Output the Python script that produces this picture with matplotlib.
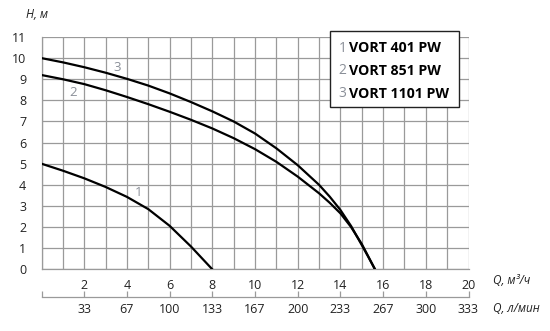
import matplotlib
matplotlib.use("Agg")
import matplotlib.pyplot as plt
from matplotlib.patches import Rectangle

plt.rcParams["font.family"] = ["Open Sans", "DejaVu Sans"]

# curve data, Q in m3/h, H in m
q1 = [0, 1, 2, 3, 4, 5, 6, 7, 8]
h1 = [5.0, 4.67, 4.31, 3.9, 3.43, 2.85, 2.06, 1.08, 0.0]

q2 = [0, 1, 2, 3, 4, 5, 6, 7, 8, 9, 10, 11, 12, 13, 13.5, 14, 14.5, 15, 15.3, 15.62]
h2 = [9.2, 9.0, 8.77, 8.48, 8.16, 7.82, 7.46, 7.08, 6.67, 6.21, 5.69, 5.09, 4.39, 3.6,
      3.15, 2.65, 2.0, 1.2, 0.62, 0.0]

q3 = [0, 1, 2, 3, 4, 5, 6, 7, 8, 9, 10, 11, 12, 13, 13.5, 14, 14.5, 15, 15.3, 15.62]
h3 = [10.0, 9.8, 9.57, 9.31, 9.02, 8.7, 8.33, 7.92, 7.48, 7.0, 6.43, 5.73, 4.93, 4.0,
      3.44, 2.81, 2.05, 1.15, 0.6, 0.0]

curve_labels = ["1", "2", "3"]
label_pos = [(4.55, 3.62), (1.48, 8.36), (3.55, 9.54)]
legend_names = ["VORT 401 PW", "VORT 851 PW", "VORT 1101 PW"]

x_ticks = list(range(2, 21, 2))
lmin_labels = ["33", "67", "100", "133", "167", "200", "233", "267", "300", "333"]
y_ticks = list(range(0, 12))

grid_c = "#9a9a9a"
text_c = "#222222"
num_c = "#8a8f98"

fig = plt.figure(figsize=(5.5, 3.31), dpi=100)
ax = fig.add_axes([41.5 / 550, 1 - 269.3 / 331, 427 / 550, 232.3 / 331])

for q, h in [(q1, h1), (q2, h2), (q3, h3)]:
    ax.plot(q, h, color="black", lw=1.6, solid_joinstyle="round", zorder=3)

for lab, (x, y) in zip(curve_labels, label_pos):
    ax.text(x, y, lab, color=num_c, fontsize=9.5, ha="center", va="center", zorder=4)

ax.set_xlim(0, 20)
ax.set_ylim(0, 11)
ax.set_xticks(x_ticks)
ax.set_xticks(range(0, 21), minor=True)
ax.set_yticks(y_ticks)
ax.grid(True, which="both", color=grid_c, lw=0.9)
ax.set_axisbelow(True)
for s in ["top", "right"]:
    ax.spines[s].set_visible(False)
for s in ["left", "bottom"]:
    ax.spines[s].set_color(grid_c)
    ax.spines[s].set_linewidth(0.9)
ax.tick_params(axis="both", which="both", length=0, labelsize=9, colors=text_c)
ax.tick_params(axis="x", pad=7)
ax.tick_params(axis="y", pad=11)

# second flow scale, l/min
sec = ax.secondary_xaxis(-0.12)
sec.set_xticks(range(0, 21, 2))
sec.set_xticklabels([""] + lmin_labels)
sec.spines["bottom"].set_color(grid_c)
sec.spines["bottom"].set_linewidth(0.9)
sec.tick_params(axis="x", direction="in", length=4, width=0.9, color=grid_c,
                labelsize=9, labelcolor=text_c, pad=4)

fig.text(37 / 550, 1 - 14 / 331, "H, м", fontsize=8.5, style="italic", color=text_c,
         ha="center", va="center")
fig.text(493 / 550, 1 - 281 / 331, "Q, м³/ч", fontsize=8.5, style="italic", color=text_c,
         ha="left", va="center")
fig.text(493 / 550, 1 - 309 / 331, "Q, л/мин", fontsize=8.5, style="italic", color=text_c,
         ha="left", va="center")

# legend box
box = Rectangle((329.5 / 550, 1 - 107 / 331), 129 / 550, 76 / 331, transform=fig.transFigure,
                facecolor="white", edgecolor="#222222", lw=1.0, zorder=5)
fig.add_artist(box)
for i, (lab, name) in enumerate(zip(curve_labels, legend_names)):
    yy = 1 - (48.5 + 22.5 * i) / 331
    fig.text(346.5 / 550, yy, lab, color=num_c, fontsize=10, ha="right", va="center", zorder=6)
    fig.text(349 / 550, yy, name, color="black", fontsize=10.2, fontweight="bold",
             ha="left", va="center", zorder=6)

fig.savefig("out.png", dpi=100)
